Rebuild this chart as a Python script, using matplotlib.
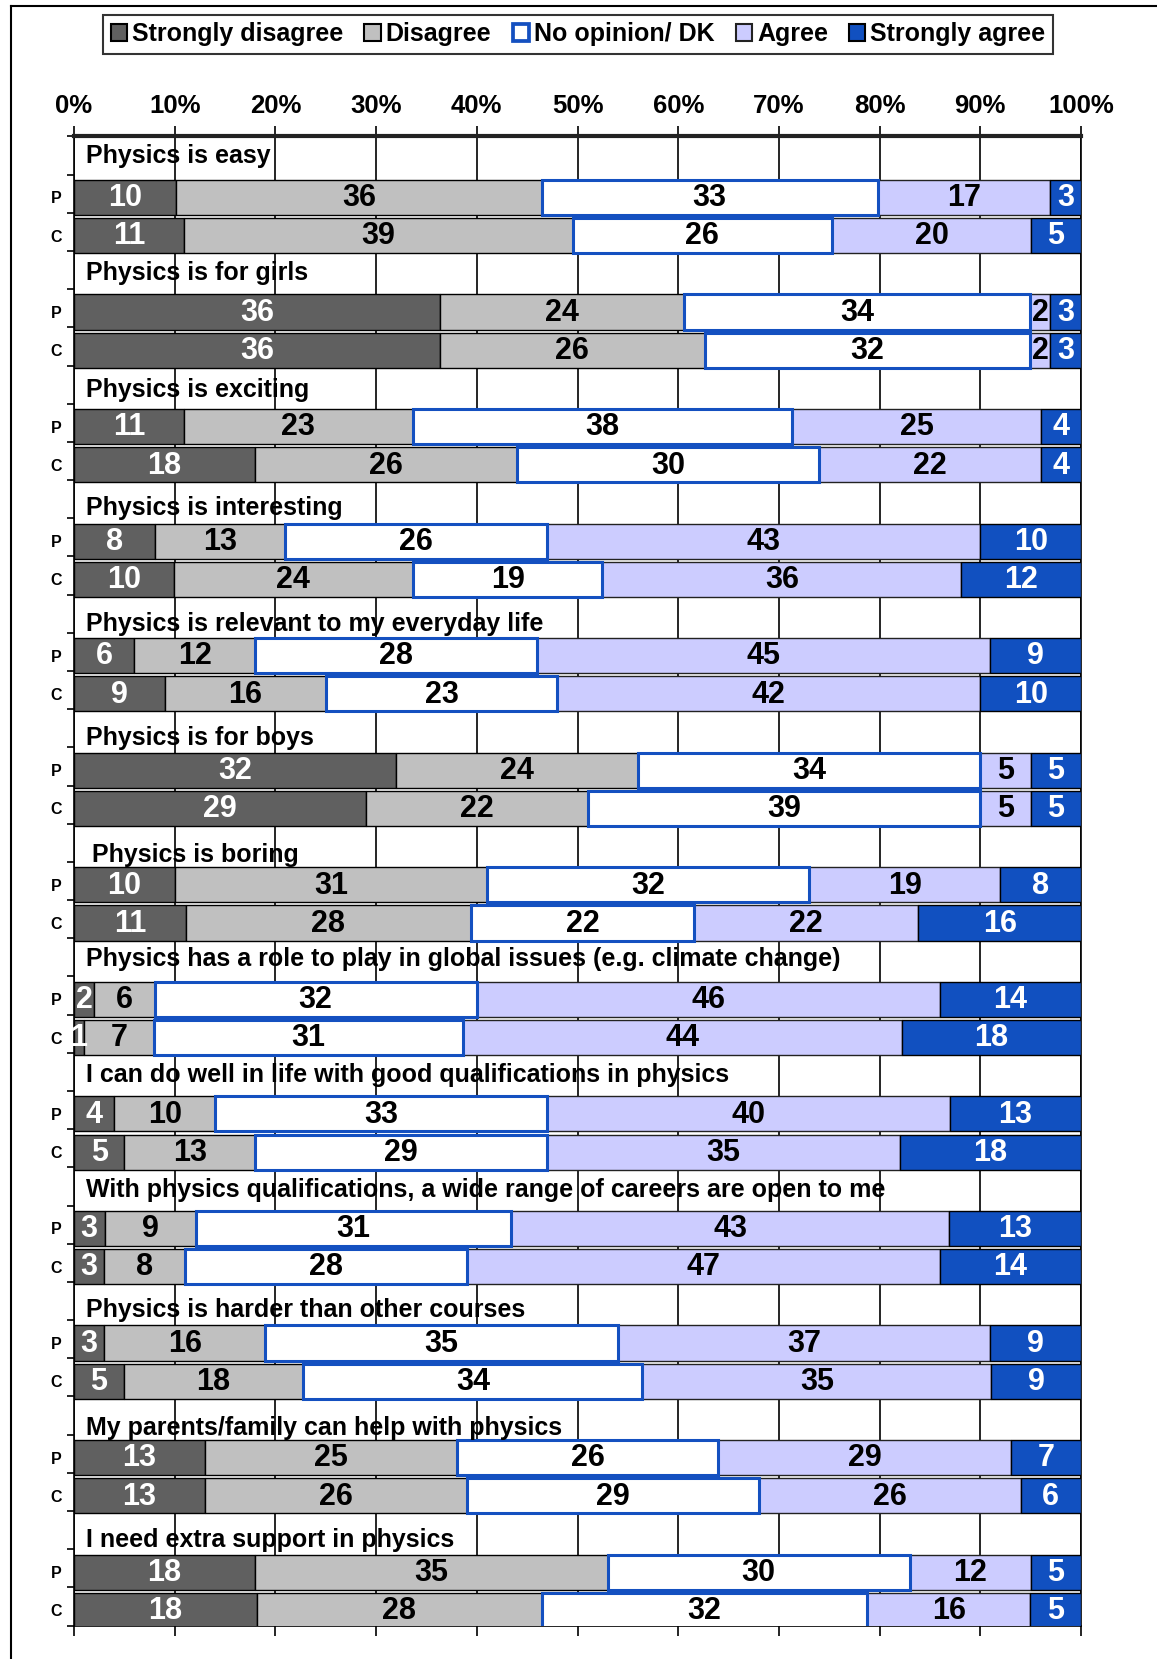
import numpy as np
import matplotlib
matplotlib.use('Agg')
import matplotlib.pyplot as plt
from matplotlib.lines import Line2D
from matplotlib.patches import Patch

plt.rcParams['font.family'] = ['Liberation Sans', 'DejaVu Sans']
plt.rcParams['font.weight'] = 'bold'

statements = [
    'Physics is easy',
    'Physics is for girls',
    'Physics is exciting',
    'Physics is interesting',
    'Physics is relevant to my everyday life',
    'Physics is for boys',
    'Physics is boring',
    'Physics has a role to play in global issues (e.g. climate change)',
    'I can do well in life with good qualifications in physics',
    'With physics qualifications, a wide range of careers are open to me',
    'Physics is harder than other courses',
    'My parents/family can help with physics',
    'I need extra support in physics',
]
categories = ['Strongly disagree', 'Disagree', 'No opinion/ DK', 'Agree', 'Strongly agree']
groups = ['P', 'C']

# one value per bar: P then C for each statement, in statement order
strongly_disagree = [10, 11, 36, 36, 11, 18, 8, 10, 6, 9, 32, 29, 10, 11, 2, 1, 4, 5, 3, 3, 3, 5, 13, 13, 18, 18]
disagree = [36, 39, 24, 26, 23, 26, 13, 24, 12, 16, 24, 22, 31, 28, 6, 7, 10, 13, 9, 8, 16, 18, 25, 26, 35, 28]
no_opinion = [33, 26, 34, 32, 38, 30, 26, 19, 28, 23, 34, 39, 32, 22, 32, 31, 33, 29, 31, 28, 35, 34, 26, 29, 30, 32]
agree = [17, 20, 2, 2, 25, 22, 43, 36, 45, 42, 5, 5, 19, 22, 46, 44, 40, 35, 43, 47, 37, 35, 29, 26, 12, 16]
strongly_agree = [3, 5, 3, 3, 4, 4, 10, 12, 9, 10, 5, 5, 8, 16, 14, 18, 13, 18, 13, 14, 9, 9, 7, 6, 5, 5]

fills = ['#606060', '#c0c0c0', 'white', '#ccccff', '#1150c0']
edges = ['black', 'black', '#1450c0', '#222222', 'black']
widths = [1.0, 1.0, 2.2, 1.0, 1.0]
txt_colors = ['white', 'black', 'black', 'black', 'white']

# small nudges for the statement captions (slot units / percent)
title_dy = [0.02, 0.09, 0.15, 0.24, 0.26, 0.26, 0.32, 0.04, 0.07, 0.1, 0.24, 0.32, 0.26]
title_dx = [0, 0, 0, 0, 0, 0, 0.6, 0, 0, 0, 0, 0, 0]
bar_shift = 0.1

counts = np.array([strongly_disagree, disagree, no_opinion, agree, strongly_agree], dtype=float)
pct = counts / counts.sum(axis=0) * 100
lefts = np.cumsum(pct, axis=0) - pct

n = len(statements)
ypos = np.array([3 * i + 1 + j for i in range(n) for j in range(len(groups))]) + bar_shift

fig = plt.figure(figsize=(11.57, 16.59), dpi=100)
ax = fig.add_axes([74 / 1157, (1659 - 1625.6) / 1659, (1081 - 74) / 1157, (1625.6 - 136.4) / 1659])

for k in range(len(categories)):
    ax.barh(ypos, pct[k], left=lefts[k], height=0.92, color=fills[k],
            edgecolor=edges[k], linewidth=widths[k], zorder=4 if k == 2 else 3)
    for y, l, w, v in zip(ypos, lefts[k], pct[k], counts[k]):
        ax.text(l + w / 2, y + 0.02, str(int(v)), ha='center', va='center',
                color=txt_colors[k], fontsize=22, zorder=5)

for i, s in enumerate(statements):
    ax.text(1.2 + title_dx[i], 3 * i + title_dy[i], s, ha='left', va='center',
            fontsize=18, zorder=5)

ax.set_xlim(0, 100)
ax.set_ylim(3 * n - 0.5, -0.5)

ax.set_xticks(np.arange(0, 101, 10))
ax.set_xticklabels([f'{v}%' for v in range(0, 101, 10)])
ax.xaxis.tick_top()
ax.tick_params(axis='x', which='major', top=True, bottom=True, labeltop=True,
               labelbottom=False, length=7, width=1.2, pad=6, labelsize=18.5)
ax.grid(axis='x', color='black', linewidth=1.2, zorder=0)
ax.set_axisbelow(True)

ax.set_yticks(ypos)
ax.set_yticklabels(groups * n, fontsize=11.5)
ax.tick_params(axis='y', which='major', length=0, pad=9)
ax.set_yticks(np.arange(-0.5, 3 * n, 1), minor=True)
ax.tick_params(axis='y', which='minor', length=5, width=1.2, direction='out')

for side in ['left', 'right', 'bottom']:
    ax.spines[side].set_color('black')
    ax.spines[side].set_linewidth(1.2)
ax.spines['top'].set_color('#222222')
ax.spines['top'].set_linewidth(3)

handles = [Patch(facecolor=fills[k], edgecolor=edges[k], linewidth=widths[k] + 0.5)
           for k in range(len(categories))]
leg = fig.legend(handles, categories, loc='center', bbox_to_anchor=(0.4997, 0.9795),
                 ncol=5, fontsize=18, handlelength=0.65, handleheight=0.65,
                 handletextpad=0.2, columnspacing=0.85, borderpad=0.3,
                 frameon=True, fancybox=False, edgecolor='black')
leg.get_frame().set_linewidth(1.5)

# outer frame (left and top edges)
fig.add_artist(Line2D([11 / 1157, 11 / 1157], [0, 1 - 6 / 1659],
                      transform=fig.transFigure, color='black', lw=1.5))
fig.add_artist(Line2D([11 / 1157, 1], [1 - 6 / 1659, 1 - 6 / 1659],
                      transform=fig.transFigure, color='black', lw=1.5))

fig.savefig('out.png', dpi=100)
